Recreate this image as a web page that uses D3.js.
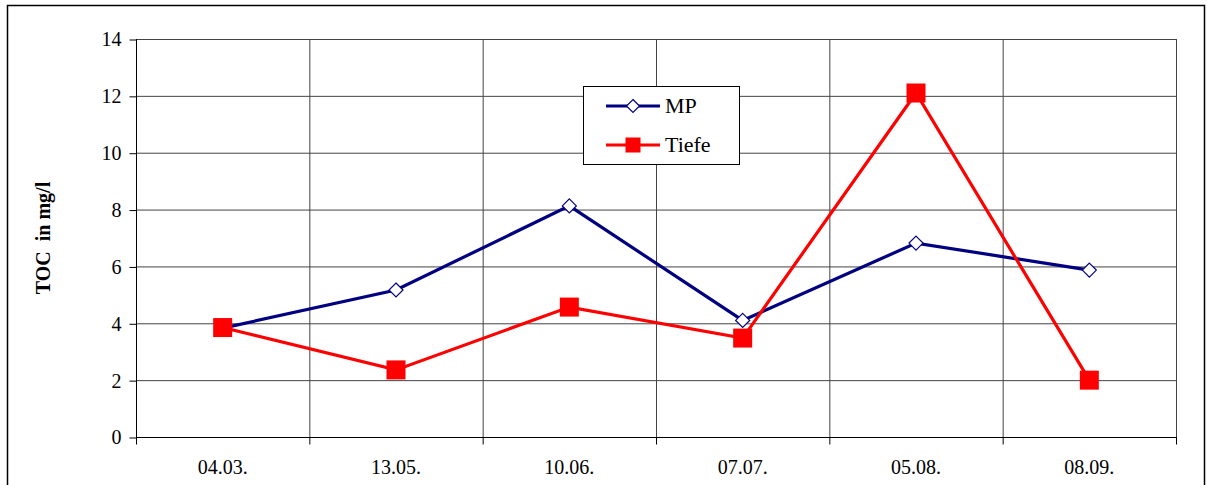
<!DOCTYPE html>
<html><head><meta charset="utf-8">
<script src="https://cdn.jsdelivr.net/npm/d3@7"></script>
<style>body{margin:0;background:#fff}svg{display:block}</style>
</head><body>
<script>
const categories = ["04.03.", "13.05.", "10.06.", "07.07.", "05.08.", "08.09."];
const mpValues = [3.83, 5.17, 8.13, 4.1, 6.82, 5.87];
const tiefeValues = [3.85, 2.36, 4.57, 3.48, 12.1, 2.0];
const yTicks = [0, 2, 4, 6, 8, 10, 12, 14];
const seriesNames = ["MP", "Tiefe"];

const W = 1211, H = 485;
const svg = d3.select("body").append("svg").attr("width", W).attr("height", H)
  .attr("font-family", "Liberation Serif");
const setFont = s => s.attr("font-family", "Liberation Serif").style("font-family", '"Liberation Serif"');

// outer frame
svg.append("rect").attr("x", 7.5).attr("y", 5.5).attr("width", 1197).attr("height", 500)
  .attr("fill", "none").attr("stroke", "#000").attr("stroke-width", 1.5);

const L = 136, R = 1176, T = 39, B = 437;
const x = d3.scaleBand().domain(categories).range([L, R]).padding(0);
const y = d3.scaleLinear().domain([0, 14]).range([B, T]);

// horizontal gridlines
svg.append("g").selectAll("line").data(yTicks).join("line")
  .attr("x1", L).attr("x2", R).attr("y1", d => y(d) + 0.5).attr("y2", d => y(d) + 0.5)
  .attr("stroke", "#444").attr("stroke-width", 1);
// vertical gridlines at category boundaries
const bounds = categories.map(c => x(c)).concat([R]);
svg.append("g").selectAll("line").data(bounds.slice(1)).join("line")
  .attr("x1", d => d + 0.5).attr("x2", d => d + 0.5).attr("y1", T).attr("y2", B)
  .attr("stroke", "#444").attr("stroke-width", 1);

// y axis
const yAxis = d3.axisLeft(y).tickValues(yTicks).tickSize(7).tickPadding(8).tickFormat(d3.format("d"));
const gy = svg.append("g").attr("transform", `translate(${L + 0.5},0.5)`).call(yAxis);
setFont(gy);
gy.select(".domain").attr("d", `M0,${T - 0.5}V${B + 0.5}`).attr("stroke", "#000");
gy.selectAll(".tick line").attr("stroke", "#000");
setFont(gy.selectAll("text").attr("font-size", 20).attr("fill", "#000"));

// x axis
const gx = svg.append("g").attr("transform", `translate(0,${B + 0.5})`);
gx.append("line").attr("x1", L).attr("x2", R + 1).attr("stroke", "#000");
gx.selectAll("line.t").data(bounds).join("line").attr("class", "t")
  .attr("x1", d => d + 0.5).attr("x2", d => d + 0.5).attr("y1", 0).attr("y2", 7).attr("stroke", "#000");
setFont(gx.selectAll("text").data(categories).join("text")
  .attr("x", d => x(d) + x.bandwidth() / 2).attr("y", 36)
  .attr("text-anchor", "middle").attr("font-size", 20).text(d => d));

// y label
setFont(svg.append("text").attr("transform", `translate(50,${(T + B) / 2}) rotate(-90)`)
  .attr("text-anchor", "middle").attr("font-weight", "bold")
  .attr("font-size", 20).style("white-space", "pre").text("TOC  in mg/l"));

const cx = d => x(d) + x.bandwidth() / 2;
const line = d3.line().x(d => cx(d.c)).y(d => y(d.v));
const mpData = categories.map((c, i) => ({ c, v: mpValues[i] }));
const tData = categories.map((c, i) => ({ c, v: tiefeValues[i] }));

const navy = "#000080", red = "#ff0000";
svg.append("path").datum(mpData).attr("d", line).attr("fill", "none").attr("stroke", navy).attr("stroke-width", 3.2);
svg.append("path").datum(tData).attr("d", line).attr("fill", "none").attr("stroke", red).attr("stroke-width", 3.2);

const diamond = (px, py, s) => `M${px},${py - s}L${px + s},${py}L${px},${py + s}L${px - s},${py}Z`;
svg.append("g").selectAll("path").data(mpData).join("path")
  .attr("d", d => diamond(cx(d.c), y(d.v), 7)).attr("fill", "#fff").attr("stroke", navy).attr("stroke-width", 1.2);
svg.append("g").selectAll("rect").data(tData).join("rect")
  .attr("x", d => cx(d.c) - 9.5).attr("y", d => y(d.v) - 9.5).attr("width", 19).attr("height", 19).attr("fill", red);

// legend
const lg = svg.append("g");
lg.append("rect").attr("x", 583.5).attr("y", 86.5).attr("width", 156).attr("height", 78)
  .attr("fill", "#fff").attr("stroke", "#000").attr("stroke-width", 1);
const legY = [106, 145];
const colors = [navy, red];
seriesNames.forEach((n, i) => {
  lg.append("line").attr("x1", 606).attr("x2", 660).attr("y1", legY[i]).attr("y2", legY[i])
    .attr("stroke", colors[i]).attr("stroke-width", 3.2);
  if (i === 0) lg.append("path").attr("d", diamond(633, legY[i], 6.5)).attr("fill", "#fff").attr("stroke", navy).attr("stroke-width", 1.2);
  else lg.append("rect").attr("x", 633 - 7.5).attr("y", legY[i] - 7.5).attr("width", 15).attr("height", 15).attr("fill", red);
  setFont(lg.append("text").attr("x", 665).attr("y", legY[i] + 7).attr("font-size", 22).text(n));
});
</script>
</body></html>
